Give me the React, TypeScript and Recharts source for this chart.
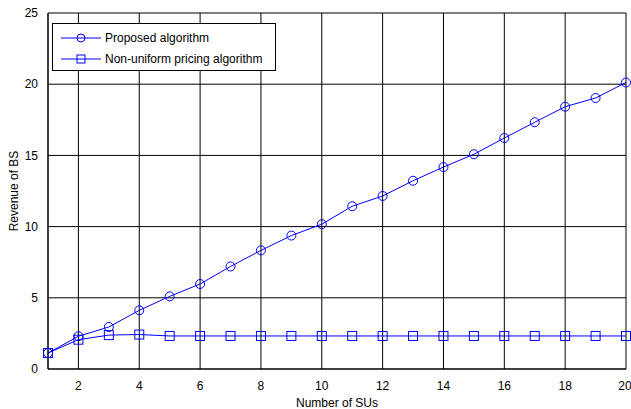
import { LineChart, Line, XAxis, YAxis, CartesianGrid } from 'recharts';

const numSUs = [1, 2, 3, 4, 5, 6, 7, 8, 9, 10, 11, 12, 13, 14, 15, 16, 17, 18, 19, 20];
const proposed = [1.12, 2.3, 2.95, 4.12, 5.1, 5.97, 7.2, 8.33, 9.37, 10.17, 11.43, 12.15, 13.22, 14.18, 15.08, 16.22, 17.33, 18.42, 19.03, 20.12];
const nonUniform = [1.12, 2.06, 2.38, 2.42, 2.32, 2.32, 2.32, 2.32, 2.32, 2.32, 2.32, 2.32, 2.32, 2.32, 2.32, 2.32, 2.32, 2.32, 2.32, 2.32];
const xTicks = [2, 4, 6, 8, 10, 12, 14, 16, 18, 20];
const yTicks = [0, 5, 10, 15, 20, 25];

const BLUE = '#0000ff';
const FONT = '"Liberation Sans", Arial, sans-serif';

const data = numSUs.map((n, i) => ({ n, proposed: proposed[i], nonUniform: nonUniform[i] }));

const CircleDot = (props: any) => {
  const { cx, cy } = props;
  if (cx == null || cy == null) return null;
  return <circle cx={cx} cy={cy} r={4.5} fill="none" stroke={BLUE} strokeWidth={1} />;
};

const SquareDot = (props: any) => {
  const { cx, cy } = props;
  if (cx == null || cy == null) return null;
  return <rect x={cx - 4.5} y={cy - 4.5} width={9} height={9} fill="none" stroke={BLUE} strokeWidth={1} />;
};

// legend drawn as an overlay so it doesn't shift the plot area
function LegendBox() {
  const rows = [
    { label: 'Proposed algorithm', kind: 'circle' },
    { label: 'Non-uniform pricing algorithm', kind: 'square' },
  ];
  return (
    <div style={{ position: 'absolute', left: 52, top: 23, border: '1px solid #000', background: '#fff', width: 224, height: 48, boxSizing: 'border-box', fontFamily: FONT, fontSize: 12, paddingTop: 3 }}>
      {rows.map(r => (
        <div key={r.label} style={{ display: 'flex', alignItems: 'center', height: 21 }}>
          <svg width={50} height={14} style={{ marginLeft: 6 }}>
            <line x1={2} y1={7} x2={42} y2={7} stroke={BLUE} strokeWidth={1} />
            {r.kind === 'circle'
              ? <circle cx={22} cy={7} r={4} fill="none" stroke={BLUE} />
              : <rect x={18} y={3} width={8} height={8} fill="none" stroke={BLUE} />}
          </svg>
          <span style={{ marginLeft: -4, color: '#000' }}>{r.label}</span>
        </div>
      ))}
    </div>
  );
}

export default function App() {
  return (
    <div style={{ position: 'absolute', left: 0, top: 0, width: 631, height: 409, background: '#fff' }}>
      <LineChart width={631} height={409} data={data} margin={{ top: 13, right: 5, left: 0, bottom: 0 }}>
        <CartesianGrid stroke="#000" strokeWidth={1} />
        <XAxis
          dataKey="n"
          type="number"
          domain={[1, 20]}
          ticks={xTicks}
          height={40}
          tickLine={false}
          axisLine={{ stroke: '#000' }}
          tick={{ fill: '#000', fontSize: 12, fontFamily: FONT }}
          tickMargin={6}
          label={{ value: 'Number of SUs', position: 'insideBottom', offset: 2, fill: '#000', fontSize: 12, fontFamily: FONT }}
        />
        <YAxis
          type="number"
          domain={[0, 25]}
          ticks={yTicks}
          width={48}
          tickLine={false}
          axisLine={{ stroke: '#000' }}
          tick={{ fill: '#000', fontSize: 12, fontFamily: FONT }}
          tickMargin={4}
          label={{ value: 'Revenue of BS', angle: -90, position: 'insideLeft', offset: 14, style: { textAnchor: 'middle' }, fill: '#000', fontSize: 12, fontFamily: FONT }}
        />
        <Line dataKey="proposed" stroke={BLUE} strokeWidth={1} dot={<CircleDot />} activeDot={false} isAnimationActive={false} />
        <Line dataKey="nonUniform" stroke={BLUE} strokeWidth={1} dot={<SquareDot />} activeDot={false} isAnimationActive={false} />
      </LineChart>
      <LegendBox />
    </div>
  );
}
